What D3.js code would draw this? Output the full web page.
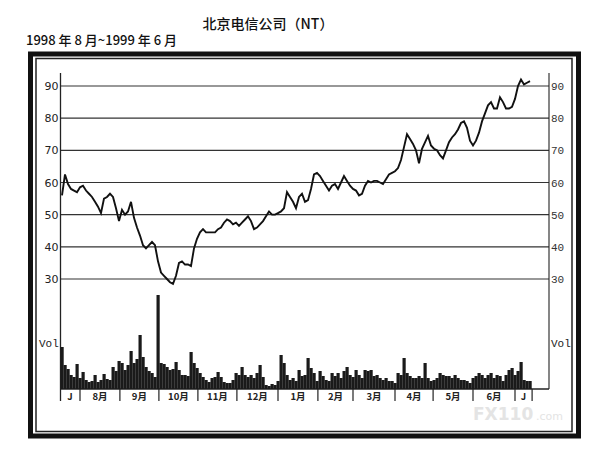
<!DOCTYPE html>
<html><head><meta charset="utf-8">
<script src="https://cdn.jsdelivr.net/npm/d3@7"></script>
<style>body{margin:0;background:#fff}svg{display:block}</style>
</head><body>
<svg id="c" width="595" height="455"></svg>
<script>
// price, sampled every ~1.5 trading days (index units)
const price = [56,62.5,59.5,58,57.5,57,58.5,59,57.5,56.5,
55.5,54,52.5,50.5,55,55.5,56.5,55.5,52,48,
51.5,50,51,54,49,46,43.5,40.5,39.5,40.5,
41.5,40.5,35.5,32,31,30,29,28.5,31,35,
35.5,34.5,34.5,34,39.5,42.5,44.5,45.5,44.5,44.5,
44.5,44.5,45.5,46,47.5,48.5,48,47,47.5,46.5,
47.5,48.5,49.5,48,45.5,46,47,48,49.5,51,
50,50,50.5,51,52,57,55.5,54,52,55.5,
56.5,54,54.5,58,62.5,63,62,60.5,59,57.5,
59,59.5,58,60,62,60.5,59,58,57.5,56,
56.5,59,60.5,60,60.5,60.5,60,59.5,61,62.5,
63,63.5,64.5,67,71,75,73.5,72,70,66,
70.5,72.5,74.5,71.5,70.5,70,68.5,67.5,70,72.5,
74,75,76.5,78.5,79,77,73,71.5,73,75.5,
79,81.5,84,85,83,83,86.5,85,83,83,
83.5,86,90,92,90.5,91,91.5];
const volume = [42,24,20,14,12,25,11,17,9,7,
8,14,7,9,15,10,9,22,18,28,
26,19,24,38,26,30,54,32,22,18,
16,12,94,26,25,22,19,20,27,19,
14,14,13,37,26,21,16,12,9,7,
11,12,17,12,7,6,6,9,16,14,
22,14,12,14,11,16,24,12,4,3,
5,4,8,34,26,14,9,11,8,19,
13,14,31,21,16,8,18,13,9,8,
16,13,16,11,18,22,14,12,19,14,
11,19,18,19,13,14,11,9,11,8,
8,6,16,14,31,16,13,11,11,13,
11,26,11,8,9,11,16,14,13,13,
11,14,11,9,9,8,6,11,13,16,
14,11,14,16,11,14,13,8,14,19,
21,14,18,27,9,8,8];
const monthBounds = [-0.7, 6, 19.3, 32.3, 45.3, 58.3, 72, 85.3, 97, 111, 123.7, 137, 151, 156.7];
const monthLabels = ["J","8月","9月","10月","11月","12月","1月","2月","3月","4月","5月","6月","J"];
const priceTicks = [30,40,50,60,70,80,90];
const titleText = "北京电信公司（NT）";
const subtitleText = "1998 年 8 月~1999 年 6 月";

const svg = d3.select("#c");
const L = 60.5, R = 549, T = 73, B = 389;
const x = d3.scaleLinear().domain([-0.5, 157]).range([L, 533]);
const y = d3.scaleLinear().domain([30, 90]).range([279, 86]);
const yv = d3.scaleLinear().domain([0, 100]).range([B, B - 100]);

// frames
svg.append("rect").attr("x",30.5).attr("y",54).attr("width",548).attr("height",382)
  .attr("fill","none").attr("stroke","#111").attr("stroke-width",5);
svg.append("rect").attr("x",36).attr("y",58.5).attr("width",536).attr("height",373)
  .attr("fill","none").attr("stroke","#222").attr("stroke-width",1.5);

// titles
svg.append("text").attr("x",268).attr("y",29).attr("text-anchor","middle")
  .attr("font-family","Noto Sans CJK SC").attr("font-size",14).attr("font-weight",500)
  .attr("fill","#111").text(titleText);
svg.append("text").attr("x",26).attr("y",45)
  .attr("font-family","Noto Sans CJK SC").attr("font-size",13).attr("font-weight",500)
  .attr("fill","#111").text(subtitleText);

// grid lines
svg.append("g").selectAll("line").data(priceTicks).join("line")
  .attr("x1",L).attr("x2",R).attr("y1",d=>y(d)).attr("y2",d=>y(d))
  .attr("stroke","#333").attr("stroke-width",1.1);

// left axis
const gl = svg.append("g").attr("transform",`translate(${L},0)`)
  .call(d3.axisLeft(y).tickValues(priceTicks).tickSize(0).tickPadding(2));
gl.select(".domain").remove();
gl.selectAll("text").attr("font-family","DejaVu Sans").attr("font-size",11).attr("fill","#222");
// right axis
const gr = svg.append("g").attr("transform",`translate(${R},0)`)
  .call(d3.axisRight(y).tickValues(priceTicks).tickSize(0).tickPadding(2));
gr.select(".domain").remove();
gr.selectAll("text").attr("font-family","Liberation Mono").attr("font-size",11).attr("fill","#333");

// axis lines
svg.append("line").attr("x1",L).attr("x2",L).attr("y1",T).attr("y2",B+12).attr("stroke","#222").attr("stroke-width",1.3);
svg.append("line").attr("x1",R).attr("x2",R).attr("y1",T).attr("y2",B).attr("stroke","#222").attr("stroke-width",1.1);
svg.append("line").attr("x1",L).attr("x2",R).attr("y1",B).attr("y2",B).attr("stroke","#222").attr("stroke-width",1.3);

// Vol labels
svg.append("text").attr("x",39).attr("y",347).attr("font-family","Liberation Mono").attr("font-size",11).attr("fill","#222").text("Vol");
svg.append("text").attr("x",551).attr("y",347).attr("font-family","Liberation Mono").attr("font-size",11).attr("fill","#222").text("Vol");

// volume bars
svg.append("g").selectAll("rect").data(volume).join("rect")
  .attr("x",(d,i)=>x(i-0.5)).attr("width",(d,i)=>x(i+0.5)-x(i-0.5)+0.2)
  .attr("y",d=>yv(d)).attr("height",d=>B-yv(d)).attr("fill","#1a1a1a");

// price line
const line = d3.line().x((d,i)=>x(i)).y(d=>y(d));
svg.append("path").datum(price).attr("d",line).attr("fill","none")
  .attr("stroke","#111").attr("stroke-width",1.9).attr("stroke-linejoin","miter");

// month ticks
svg.append("g").selectAll("line").data(monthBounds.slice(1)).join("line")
  .attr("x1",d=>x(d)).attr("x2",d=>x(d)).attr("y1",B).attr("y2",B+12)
  .attr("stroke","#222").attr("stroke-width",1.2);
svg.append("g").selectAll("text").data(monthLabels).join("text")
  .attr("x",(d,i)=>(x(monthBounds[i])+x(monthBounds[i+1]))/2).attr("y",B+11)
  .attr("text-anchor","middle").attr("font-family","Noto Sans CJK SC").attr("font-weight",700)
  .attr("font-size",9.5).attr("fill","#222").text(d=>d);

// watermark
svg.append("text").attr("x",473).attr("y",420).attr("font-family","DejaVu Sans").attr("font-weight",700)
  .attr("font-size",17).attr("fill","#e4e4e4").text("FX110");
svg.append("text").attr("x",536).attr("y",420).attr("font-family","DejaVu Sans")
  .attr("font-size",11).attr("fill","#e4e4e4").text(".com");
</script>
</body></html>
